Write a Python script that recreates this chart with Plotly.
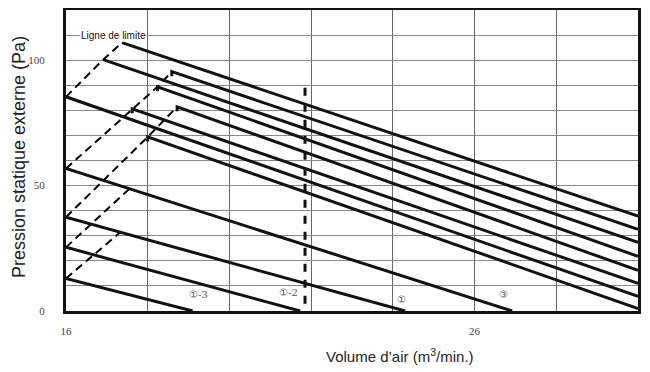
import plotly.graph_objects as go

# ---- data ----
curve_labels = ["⑬", "⑭", "⑫", "⑮", "⑪", "⑧", "⑥", "⑦", "③", "①", "①-2", "①-3"]
start_x = [17.37, 18.59, 16.91, 18.24, 18.72, 17.62, 16.0, 18.0, 16.0, 16.0, 16.0, 16.0]
start_y = [107.0, 95.4, 100.2, 89.4, 81.4, 80.6, 85.4, 69.4, 56.8, 37.4, 25.4, 13.0]
end_x = [30.0, 30.0, 30.0, 30.0, 30.0, 30.0, 30.0, 30.0, 26.92, 24.3, 21.73, 19.1]
end_y = [37.8, 32.6, 27.4, 21.8, 16.2, 11.0, 5.8, 1.0, 0.0, 0.0, 0.0, 0.0]
has_hook = [False, True, False, True, True, True, False, True, False, False, False, False]

# limit lines (dashed)
limit_x = [[16.0, 16.91, 17.37],
           [16.0, 17.62, 18.24, 18.59],
           [16.0, 18.0, 18.72],
           [16.0, 17.55],
           [16.0, 17.33]]
limit_y = [[85.4, 100.2, 107.0],
           [56.8, 80.6, 89.4, 95.4],
           [37.4, 69.4, 81.4],
           [25.4, 48.7],
           [13.0, 31.4]]

ref_x = [21.85, 21.85]
ref_y = [89.0, 0.0]

in_plot_labels = ["①-3", "①-2", "①", "③"]
in_plot_x = [19.25, 21.45, 24.2, 26.7]
in_plot_y = [6.5, 7.5, 4.5, 6.5]

y_ticks = [0, 50, 100]
x_ticks = [16, 26]

HOOK = 1.8  # length of the short down-stroke at curve starts (Pa)

fig = go.Figure()

for xs, ys in zip(limit_x, limit_y):
    fig.add_trace(go.Scatter(x=xs, y=ys, mode="lines",
                             line=dict(color="black", width=2, dash="8px,5px"),
                             showlegend=False, hoverinfo="skip"))

for i in range(len(curve_labels)):
    xs = [start_x[i], end_x[i]]
    ys = [start_y[i], end_y[i]]
    if has_hook[i]:
        xs = [start_x[i]] + xs
        ys = [start_y[i] - HOOK] + ys
    fig.add_trace(go.Scatter(x=xs, y=ys, mode="lines", line=dict(color="#111", width=3),
                             showlegend=False, hoverinfo="skip"))

fig.add_trace(go.Scatter(x=ref_x, y=ref_y, mode="lines",
                         line=dict(color="#111", width=3, dash="8px,8px"),
                         showlegend=False, hoverinfo="skip"))

# right-edge labels
for i in range(8):
    fig.add_annotation(x=end_x[i], y=end_y[i], xref="x", yref="y", text=curve_labels[i],
                       showarrow=False, xanchor="left", xshift=2,
                       font=dict(family="DejaVu Serif", size=10, color="#444"))

for t, x, y in zip(in_plot_labels, in_plot_x, in_plot_y):
    fig.add_annotation(x=x, y=y, xref="x", yref="y", text=t, showarrow=False,
                       font=dict(family="DejaVu Serif", size=10, color="#555"))

fig.add_annotation(x=16.35, y=110, xref="x", yref="y", text="Ligne de limite",
                   showarrow=False, xanchor="left", bgcolor="white", borderpad=0,
                   font=dict(family="Liberation Sans Narrow, Arial Narrow, Liberation Sans", size=10, color="#111"))

fig.add_annotation(xref="paper", x=(400 - 66) / (638 - 66), yref="paper", y=-44 / 301,
                   yanchor="middle", text="Volume d’air (m<sup>3</sup>/min.)",
                   showarrow=False, font=dict(family="Liberation Sans, Arial", size=15, color="#222"))

fig.add_annotation(xref="paper", x=-47 / 572, yref="paper", y=(311 - 157) / 301,
                   xanchor="center", yanchor="middle", textangle=-90,
                   text="Pression statique externe (Pa)",
                   showarrow=False, font=dict(family="Liberation Sans, Arial", size=18, color="#222"))

# the page body adds an 8px offset, so margins are shifted to compensate
fig.update_layout(
    width=650, height=372,
    margin=dict(l=58, r=20, t=2, b=69),
    paper_bgcolor="white", plot_bgcolor="white",
    showlegend=False,
    xaxis=dict(range=[16, 30], tickvals=x_ticks, ticktext=[str(v) for v in x_ticks],
               showgrid=True, gridcolor="#666", gridwidth=1, automargin=False,
               minor=dict(dtick=2, tick0=16, showgrid=True, gridcolor="#666", gridwidth=1),
               showline=True, linecolor="#111", linewidth=3, mirror=True,
               zeroline=False, ticks="", ticklabelstandoff=8,
               tickfont=dict(family="Liberation Serif", size=11, color="#444")),
    yaxis=dict(range=[0, 120], tickvals=y_ticks, ticktext=[str(v) for v in y_ticks],
               showgrid=True, gridcolor="#888", gridwidth=1, automargin=False,
               minor=dict(dtick=10, tick0=0, showgrid=True, gridcolor="#888", gridwidth=1),
               showline=True, linecolor="#111", linewidth=3, mirror=True,
               zeroline=False, ticks="", ticklabelstandoff=16,
               tickfont=dict(family="Liberation Serif", size=11, color="#444")),
)

fig.write_html("out.html")
